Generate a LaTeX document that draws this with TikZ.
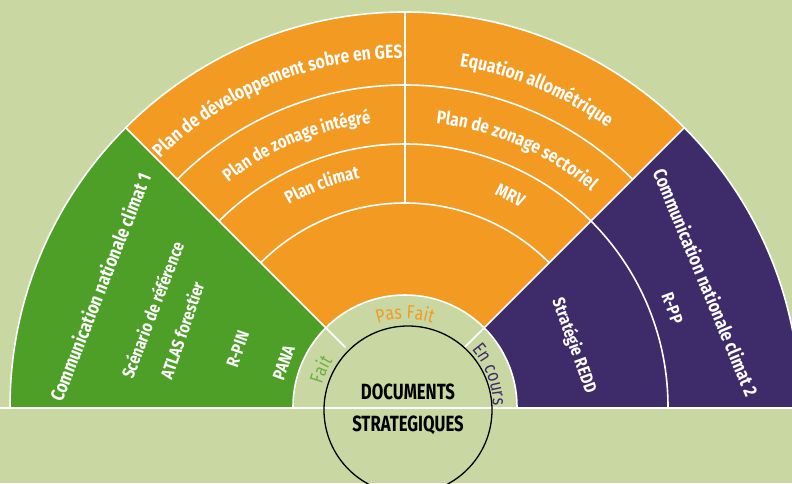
\documentclass[tikz,border=0pt]{standalone}
\usepackage{fontspec}
\usetikzlibrary{decorations.text}
\newfontfamily\cf{Fira Sans}[FakeStretch=0.83]
\newfontfamily\cfn{Fira Sans}[FakeStretch=0.76]
\definecolor{bgc}{HTML}{C9D8A3}
\definecolor{orc}{HTML}{F39A22}
\definecolor{grc}{HTML}{4E9F27}
\definecolor{puc}{HTML}{3E2B69}
\definecolor{fgc}{HTML}{6DB144}
\tikzset{
  sep/.style={draw=white, line width=1.6pt},
  lab/.style={text=white, font=\cf\bfseries\fontsize{19}{19}\selectfont, inner sep=0pt},
  labs/.style={lab, font=\cf\bfseries\fontsize{17.5}{17.5}\selectfont},
  ctr/.style={font=\cfn\bfseries\fontsize{22}{32}\selectfont, align=center, text=black, inner sep=0pt},
}
\newcommand{\arclab}[5]{% radius, start, end, colour, text
  \path[decorate, decoration={text along path, text align=center, text color=#4,
    text={#5}}] (#2:#1) arc[start angle=#2, end angle=#3, radius=#1];}
\begin{document}
\begin{tikzpicture}[x=1pt,y=1pt]
\useasboundingbox (-405,-76) rectangle (387,407);
\clip (-405,-76) rectangle (387,407);
\fill[bgc] (-405,-76) rectangle (387,407);
% sectors
\fill[grc] (0,0) -- (180:395) arc[start angle=180, end angle=135, radius=395] -- cycle;
\fill[orc] (0,0) -- (135:395) arc[start angle=135, end angle=45, radius=395] -- cycle;
\fill[puc] (0,0) -- (45:395) arc[start angle=45, end angle=0, radius=395] -- cycle;
\fill[bgc] (112,0) arc[start angle=0, end angle=180, radius=112] -- cycle;
% white separators
\draw[sep] (-405,-1) -- (387,-1);
\draw[sep] (395,0) arc[start angle=0, end angle=180, radius=395];
\draw[sep] (112,0) arc[start angle=0, end angle=180, radius=112];
\draw[sep] (135:84) -- (135:395);
\draw[sep] (45:84) -- (45:395);
\draw[sep] (90:204) -- (90:395);
\draw[sep] (45:322) arc[start angle=45, end angle=135, radius=322];
\draw[sep] (0:263) arc[start angle=0, end angle=135, radius=263];
\draw[sep] (45:204) arc[start angle=45, end angle=135, radius=204];
% central circle
\draw[black, line width=1.3pt] (3,-3) circle (84);
\node[ctr] (doc) at (3,-2) {DOCUMENTS\\STRATEGIQUES};
% orange curved labels
\arclab{349}{150}{75}{white}{|\cf\bfseries\fontsize{19}{19}\selectfont|Plan de développement sobre en GES}
\arclab{286}{150}{75}{white}{|\cf\bfseries\fontsize{18}{18}\selectfont|Plan de zonage intégré}
\arclab{233}{148}{73}{white}{|\cf\bfseries\fontsize{18}{18}\selectfont|Plan climat}
\arclab{345}{105}{30}{white}{|\cf\bfseries\fontsize{19}{19}\selectfont|Equation allométrique}
\arclab{285}{104}{29}{white}{|\cf\bfseries\fontsize{18.5}{18.5}\selectfont|Plan de  zonage sectoriel}
\arclab{230}{101}{26}{white}{|\cf\bfseries\fontsize{18}{18}\selectfont|MRV}
% status labels
\arclab{88}{125}{55}{orc}{|\cf\fontsize{19}{19}\selectfont|Pas Fait}
\arclab{86}{190}{122}{fgc}{|\cf\fontsize{19}{19}\selectfont|Fait}
\arclab{88}{52}{-10}{puc}{|\cf\fontsize{19}{19}\selectfont|En cours}
% green labels
\node[lab, rotate=68.5] (c1) at (158.5:328) {Communication nationale climat 1};
\node[labs, rotate=69] (scen) at (159:271) {Scénario de référence};
\node[labs, rotate=71] (atlas) at (161:236) {ATLAS forestier};
\node[labs, rotate=71] (rpin) at (161:177) {R-PIN};
\node[labs, rotate=70] (pana) at (160:129) {PANA};
% purple labels
\node[lab, rotate=-67.5] (c2) at (22.5:326) {Communication nationale climat 2};
\node[labs, rotate=-69.7] (rpp) at (20.3:285) {R-PP};
\node[labs, rotate=-70] (redd) at (20:180) {Stratégie REDD};
\end{tikzpicture}
\end{document}
